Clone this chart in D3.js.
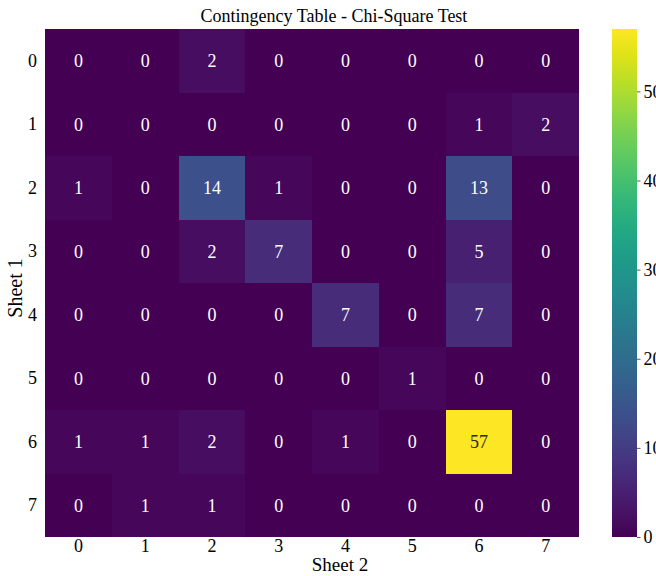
<!DOCTYPE html>
<html>
<head>
<meta charset="utf-8">
<script src="https://cdn.jsdelivr.net/npm/d3@7"></script>
<style>
  html, body { margin: 0; padding: 0; background: #fff; }
  svg { display: block; }
  svg text { font-family: "Liberation Serif", "Times New Roman", serif !important; }
</style>
</head>
<body>
<svg id="chart" width="656" height="576"></svg>
<script>
// Row categories (Sheet 1) and column categories (Sheet 2)
const rowLabels = ["0", "1", "2", "3", "4", "5", "6", "7"];
const colLabels = ["0", "1", "2", "3", "4", "5", "6", "7"];

// Observed counts, one array per Sheet 1 row
const row0 = [0, 0, 2, 0, 0, 0, 0, 0];
const row1 = [0, 0, 0, 0, 0, 0, 1, 2];
const row2 = [1, 0, 14, 1, 0, 0, 13, 0];
const row3 = [0, 0, 2, 7, 0, 0, 5, 0];
const row4 = [0, 0, 0, 0, 7, 0, 7, 0];
const row5 = [0, 0, 0, 0, 0, 1, 0, 0];
const row6 = [1, 1, 2, 0, 1, 0, 57, 0];
const row7 = [0, 1, 1, 0, 0, 0, 0, 0];
const counts = [row0, row1, row2, row3, row4, row5, row6, row7];

// Colour bar ticks
const colorTicks = [0, 10, 20, 30, 40, 50];

const svg = d3.select("#chart");
const plotLeft = 45, plotRight = 579, plotTop = 29, plotBottom = 537;

const x = d3.scaleBand().domain(colLabels).range([plotLeft, plotRight]).padding(0);
const y = d3.scaleBand().domain(rowLabels).range([plotTop, plotBottom]).padding(0);

const vmax = d3.max(counts.flat());
const color = d3.scaleSequential(d3.interpolateViridis).domain([0, vmax]);

const cells = [];
counts.forEach((r, i) => r.forEach((v, j) => cells.push({ row: rowLabels[i], col: colLabels[j], v })));

// Heatmap cells, snapped to whole pixels so neighbours meet without seams
svg.append("g").attr("shape-rendering", "crispEdges")
  .selectAll("rect").data(cells).join("rect")
  .attr("x", d => Math.round(x(d.col)))
  .attr("y", d => Math.round(y(d.row)))
  .attr("width", d => Math.round(x(d.col) + x.bandwidth()) - Math.round(x(d.col)))
  .attr("height", d => Math.round(y(d.row) + y.bandwidth()) - Math.round(y(d.row)))
  .attr("fill", d => color(d.v));

// Cell annotations: light text on dark cells, dark text on bright ones
svg.append("g").selectAll("text").data(cells).join("text")
  .attr("x", d => x(d.col) + x.bandwidth() / 2)
  .attr("y", d => y(d.row) + y.bandwidth() / 2)
  .attr("text-anchor", "middle")
  .attr("dy", "0.35em")
  .attr("font-size", 18)
  .attr("fill", d => {
    const c = d3.rgb(color(d.v));
    const lum = 0.2126 * c.r + 0.7152 * c.g + 0.0722 * c.b;
    return lum > 128 ? "#262626" : "#ffffff";
  })
  .text(d => d.v);

// Axes
const xAxis = svg.append("g")
  .attr("transform", `translate(0,${plotBottom})`)
  .call(d3.axisBottom(x).tickSize(0).tickPadding(2));
xAxis.select(".domain").remove();
xAxis.selectAll("text").attr("font-size", 18).attr("fill", "#000");

const yAxis = svg.append("g")
  .attr("transform", `translate(${plotLeft},0)`)
  .call(d3.axisLeft(y).tickSize(0).tickPadding(8));
yAxis.select(".domain").remove();
yAxis.selectAll("text").attr("font-size", 18).attr("fill", "#000");

// Titles, centred on the full figure width
svg.append("text")
  .attr("x", 334).attr("y", 22)
  .attr("text-anchor", "middle").attr("font-size", 18)
  .text("Contingency Table - Chi-Square Test");

svg.append("text")
  .attr("x", 340).attr("y", 571)
  .attr("text-anchor", "middle").attr("font-size", 19)
  .text("Sheet 2");

svg.append("text")
  .attr("transform", `translate(22,288) rotate(-90)`)
  .attr("text-anchor", "middle").attr("font-size", 20)
  .text("Sheet 1");

// Colour bar
const cbLeft = 612, cbWidth = 25;
const defs = svg.append("defs");
const grad = defs.append("linearGradient").attr("id", "cbgrad")
  .attr("x1", "0").attr("y1", "1").attr("x2", "0").attr("y2", "0");
d3.range(0, 1.0001, 0.05).forEach(t => {
  grad.append("stop").attr("offset", t).attr("stop-color", d3.interpolateViridis(t));
});
svg.append("rect")
  .attr("x", cbLeft).attr("y", plotTop)
  .attr("width", cbWidth).attr("height", plotBottom - plotTop)
  .attr("fill", "url(#cbgrad)");

const cbScale = d3.scaleLinear().domain([0, vmax]).range([plotBottom, plotTop]);
const cbAxis = svg.append("g")
  .attr("transform", `translate(${cbLeft + cbWidth},0)`)
  .call(d3.axisRight(cbScale).tickValues(colorTicks).tickSize(3.5).tickPadding(3));
cbAxis.select(".domain").remove();
cbAxis.selectAll("line").attr("stroke", "#333").attr("stroke-width", 0.8);
cbAxis.selectAll("text").attr("font-size", 18).attr("fill", "#000");
</script>
</body>
</html>
